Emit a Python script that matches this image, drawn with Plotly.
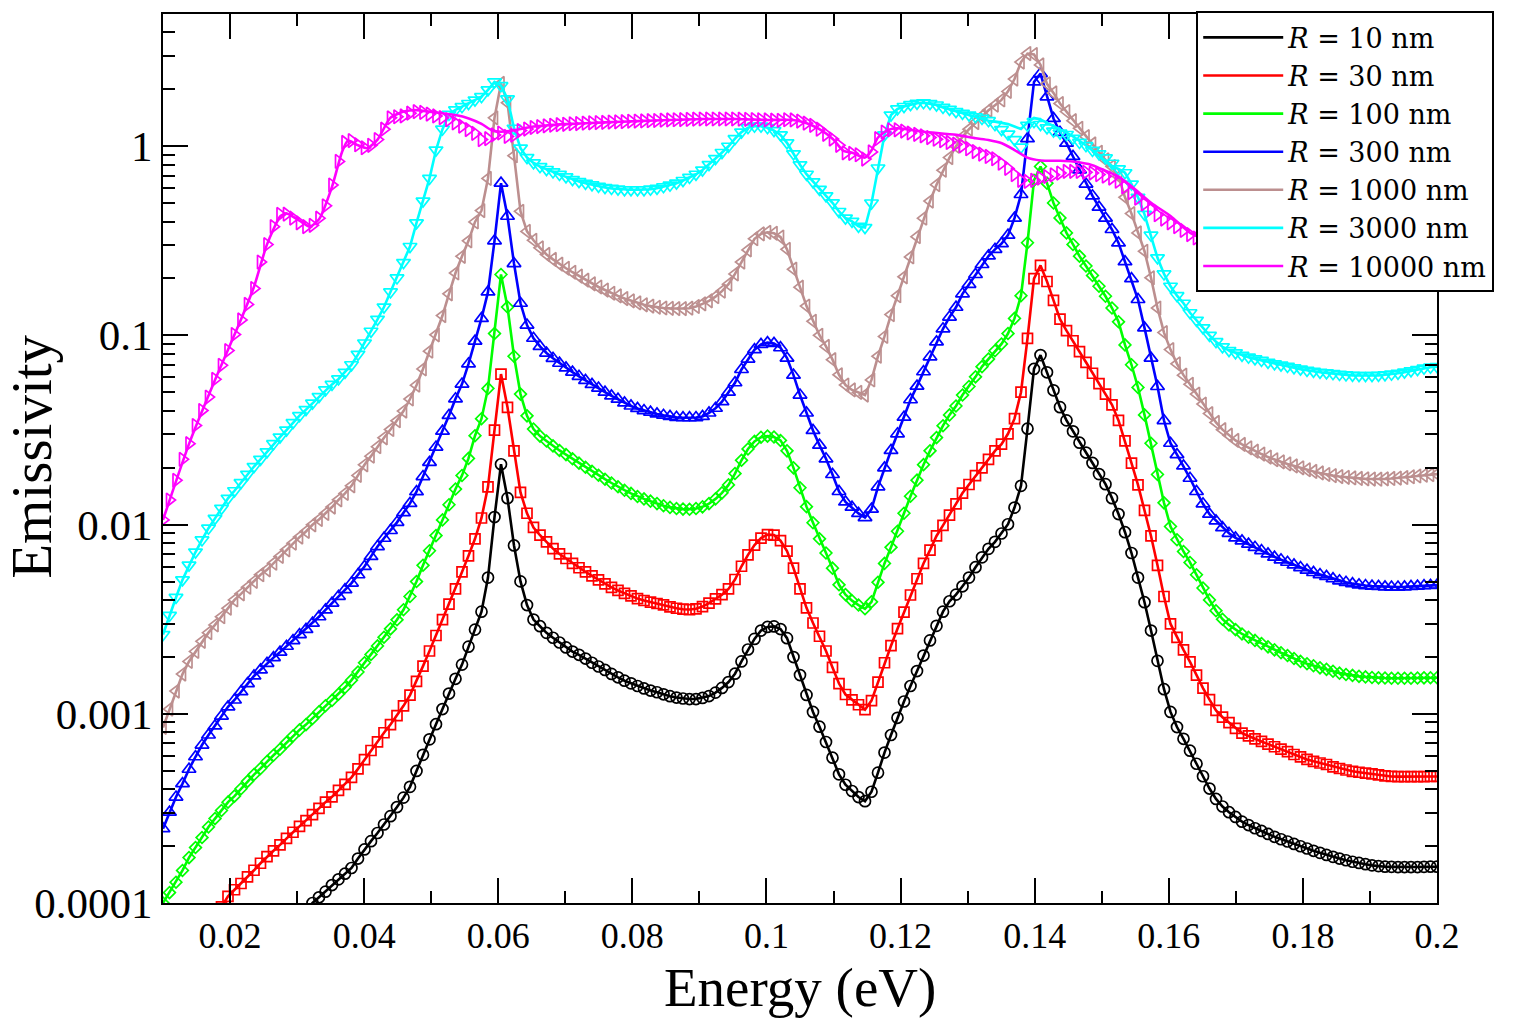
import plotly.graph_objects as go

# ---------------- data (log10 of emissivity) ----------------
N_POINTS = 197
ENERGY = [round(0.01 + 0.19 * i / 196, 6) for i in range(N_POINTS)]  # eV grid of the markers

X_TICKS = [0.02, 0.04, 0.06, 0.08, 0.1, 0.12, 0.14, 0.16, 0.18, 0.2]
X_TICK_TEXT = ["0.02", "0.04", "0.06", "0.08", "0.1", "0.12", "0.14", "0.16", "0.18", "0.2"]
Y_TICKS = [1e-4, 1e-3, 1e-2, 1e-1, 1]
Y_TICK_TEXT = ["0.0001", "0.001", "0.01", "0.1", "1"]

SERIES_NAMES = ["<i>R</i> = 10 nm", "<i>R</i> = 30 nm", "<i>R</i> = 100 nm", "<i>R</i> = 300 nm",
                "<i>R</i> = 1000 nm", "<i>R</i> = 3000 nm", "<i>R</i> = 10000 nm"]

R10_LOG = [
    None, None, None, None, None, None, None, None, None, None,
    None, None, None, None, None, None, None, None, None, None,
    None, None, -4.04, -4.00, -3.970, -3.940, -3.905, -3.875, -3.845, -3.815,
    -3.765, -3.717, -3.673, -3.630, -3.585, -3.541, -3.493, -3.443, -3.386, -3.302,
    -3.217, -3.135, -3.055, -2.975, -2.893, -2.815, -2.740, -2.645, -2.555, -2.460,
    -2.280, -1.960, -1.681, -1.860, -2.110, -2.300, -2.425, -2.502, -2.537, -2.572,
    -2.598, -2.623, -2.649, -2.671, -2.688, -2.708, -2.730, -2.750, -2.768, -2.789,
    -2.807, -2.825, -2.839, -2.853, -2.866, -2.877, -2.886, -2.897, -2.907, -2.914,
    -2.919, -2.922, -2.922, -2.916, -2.906, -2.888, -2.863, -2.832, -2.788, -2.723,
    -2.660, -2.604, -2.560, -2.541, -2.538, -2.552, -2.600, -2.700, -2.795, -2.900,
    -2.990, -3.068, -3.149, -3.232, -3.320, -3.375, -3.408, -3.440, -3.462, -3.412,
    -3.311, -3.205, -3.112, -3.021, -2.935, -2.853, -2.774, -2.692, -2.612, -2.535,
    -2.460, -2.405, -2.370, -2.326, -2.280, -2.225, -2.173, -2.128, -2.091, -2.047,
    -1.998, -1.910, -1.795, -1.493, -1.177, -1.104, -1.195, -1.290, -1.379, -1.449,
    -1.507, -1.567, -1.619, -1.674, -1.733, -1.786, -1.860, -1.944, -2.040, -2.150,
    -2.280, -2.410, -2.560, -2.720, -2.870, -2.990, -3.070, -3.132, -3.195, -3.264,
    -3.330, -3.395, -3.450, -3.490, -3.520, -3.545, -3.570, -3.588, -3.605, -3.619,
    -3.635, -3.650, -3.663, -3.675, -3.688, -3.700, -3.712, -3.724, -3.735, -3.746,
    -3.756, -3.765, -3.774, -3.782, -3.788, -3.795, -3.801, -3.805, -3.808, -3.809,
    -3.810, -3.810, -3.810, -3.810, -3.809, -3.808, -3.808,
]

R30_LOG = [
    None, None, None, None, None, None, None, None, None, -4.02,
    -3.965, -3.930, -3.897, -3.862, -3.827, -3.790, -3.755, -3.724, -3.693, -3.658,
    -3.626, -3.595, -3.565, -3.533, -3.500, -3.467, -3.439, -3.405, -3.373, -3.336,
    -3.291, -3.242, -3.194, -3.148, -3.100, -3.057, -3.010, -2.958, -2.901, -2.829,
    -2.748, -2.668, -2.586, -2.502, -2.420, -2.340, -2.250, -2.165, -2.075, -1.965,
    -1.800, -1.500, -1.204, -1.380, -1.610, -1.830, -1.940, -2.015, -2.056, -2.091,
    -2.127, -2.155, -2.179, -2.205, -2.228, -2.250, -2.271, -2.292, -2.313, -2.332,
    -2.348, -2.363, -2.377, -2.391, -2.401, -2.410, -2.417, -2.424, -2.435, -2.442,
    -2.447, -2.449, -2.445, -2.433, -2.415, -2.392, -2.370, -2.340, -2.290, -2.220,
    -2.160, -2.108, -2.071, -2.053, -2.055, -2.085, -2.140, -2.230, -2.340, -2.440,
    -2.520, -2.590, -2.668, -2.755, -2.840, -2.898, -2.926, -2.952, -2.978, -2.930,
    -2.832, -2.730, -2.640, -2.550, -2.462, -2.372, -2.286, -2.205, -2.135, -2.060,
    -2.004, -1.950, -1.890, -1.833, -1.788, -1.741, -1.700, -1.655, -1.610, -1.575,
    -1.520, -1.440, -1.300, -1.016, -0.700, -0.630, -0.715, -0.815, -0.914, -0.975,
    -1.028, -1.086, -1.142, -1.200, -1.255, -1.310, -1.367, -1.449, -1.557, -1.675,
    -1.790, -1.925, -2.060, -2.215, -2.380, -2.525, -2.596, -2.662, -2.726, -2.796,
    -2.864, -2.925, -2.982, -3.018, -3.047, -3.077, -3.102, -3.117, -3.133, -3.146,
    -3.160, -3.174, -3.187, -3.200, -3.215, -3.228, -3.241, -3.251, -3.260, -3.268,
    -3.280, -3.289, -3.297, -3.304, -3.309, -3.314, -3.318, -3.323, -3.328, -3.331,
    -3.332, -3.332, -3.332, -3.332, -3.332, -3.331, -3.331,
]

R100_LOG = [
    -4.00, -3.945, -3.890, -3.828, -3.760, -3.707, -3.654, -3.598, -3.554, -3.511,
    -3.467, -3.435, -3.396, -3.357, -3.321, -3.289, -3.252, -3.219, -3.187, -3.152,
    -3.117, -3.085, -3.057, -3.025, -2.989, -2.957, -2.929, -2.896, -2.861, -2.822,
    -2.779, -2.730, -2.686, -2.641, -2.595, -2.551, -2.503, -2.450, -2.380, -2.301,
    -2.215, -2.138, -2.058, -1.975, -1.895, -1.812, -1.740, -1.650, -1.530, -1.440,
    -1.280, -0.990, -0.678, -0.850, -1.110, -1.310, -1.425, -1.495, -1.532, -1.558,
    -1.584, -1.608, -1.630, -1.652, -1.675, -1.697, -1.718, -1.739, -1.760, -1.780,
    -1.800, -1.818, -1.835, -1.851, -1.864, -1.876, -1.889, -1.900, -1.909, -1.915,
    -1.918, -1.919, -1.915, -1.906, -1.889, -1.864, -1.832, -1.790, -1.730, -1.660,
    -1.600, -1.560, -1.538, -1.532, -1.537, -1.555, -1.610, -1.700, -1.805, -1.905,
    -1.990, -2.075, -2.150, -2.230, -2.318, -2.370, -2.402, -2.425, -2.445, -2.408,
    -2.305, -2.205, -2.120, -2.035, -1.940, -1.850, -1.765, -1.683, -1.610, -1.540,
    -1.477, -1.420, -1.373, -1.315, -1.270, -1.219, -1.165, -1.125, -1.081, -1.045,
    -0.990, -0.910, -0.790, -0.510, -0.180, -0.107, -0.195, -0.300, -0.379, -0.458,
    -0.519, -0.581, -0.633, -0.683, -0.740, -0.793, -0.855, -0.928, -1.050, -1.155,
    -1.275, -1.420, -1.570, -1.735, -1.885, -2.010, -2.080, -2.142, -2.200, -2.265,
    -2.335, -2.398, -2.455, -2.500, -2.530, -2.555, -2.578, -2.595, -2.612, -2.628,
    -2.646, -2.662, -2.677, -2.692, -2.708, -2.723, -2.735, -2.746, -2.757, -2.765,
    -2.775, -2.785, -2.792, -2.797, -2.802, -2.805, -2.808, -2.810, -2.811, -2.812,
    -2.812, -2.812, -2.812, -2.811, -2.810, -2.809, -2.809,
]

R300_LOG = [
    -3.607, -3.520, -3.440, -3.369, -3.293, -3.227, -3.165, -3.112, -3.064, -3.012,
    -2.963, -2.927, -2.883, -2.840, -2.800, -2.768, -2.733, -2.703, -2.674, -2.643,
    -2.613, -2.581, -2.554, -2.521, -2.487, -2.451, -2.415, -2.379, -2.344, -2.309,
    -2.265, -2.221, -2.168, -2.116, -2.072, -2.031, -1.988, -1.937, -1.888, -1.826,
    -1.746, -1.671, -1.590, -1.506, -1.423, -1.335, -1.257, -1.150, -1.030, -0.910,
    -0.770, -0.500, -0.195, -0.370, -0.620, -0.830, -0.945, -1.015, -1.058, -1.093,
    -1.121, -1.147, -1.172, -1.194, -1.216, -1.238, -1.259, -1.278, -1.300, -1.320,
    -1.337, -1.357, -1.373, -1.386, -1.397, -1.406, -1.415, -1.422, -1.428, -1.433,
    -1.435, -1.435, -1.434, -1.428, -1.410, -1.385, -1.350, -1.300, -1.250, -1.180,
    -1.125, -1.075, -1.048, -1.038, -1.042, -1.065, -1.120, -1.210, -1.315, -1.410,
    -1.502, -1.580, -1.652, -1.735, -1.825, -1.880, -1.908, -1.941, -1.963, -1.918,
    -1.800, -1.700, -1.608, -1.520, -1.432, -1.340, -1.268, -1.192, -1.113, -1.034,
    -0.965, -0.903, -0.851, -0.780, -0.730, -0.678, -0.625, -0.580, -0.545, -0.515,
    -0.470, -0.380, -0.255, 0.040, 0.340, 0.384, 0.261, 0.147, 0.073, 0.016,
    -0.054, -0.125, -0.200, -0.262, -0.322, -0.380, -0.440, -0.511, -0.610, -0.700,
    -0.810, -0.960, -1.120, -1.270, -1.450, -1.570, -1.630, -1.690, -1.755, -1.825,
    -1.890, -1.945, -1.980, -2.016, -2.046, -2.070, -2.086, -2.103, -2.120, -2.137,
    -2.155, -2.172, -2.186, -2.199, -2.213, -2.227, -2.241, -2.253, -2.264, -2.274,
    -2.286, -2.297, -2.305, -2.312, -2.318, -2.322, -2.325, -2.327, -2.329, -2.330,
    -2.330, -2.329, -2.327, -2.325, -2.323, -2.321, -2.320,
]

R1000_LOG = [
    -3.072, -2.975, -2.880, -2.790, -2.723, -2.670, -2.617, -2.571, -2.530, -2.487,
    -2.442, -2.398, -2.366, -2.331, -2.300, -2.265, -2.239, -2.204, -2.168, -2.133,
    -2.098, -2.066, -2.036, -2.001, -1.973, -1.941, -1.907, -1.869, -1.835, -1.795,
    -1.740, -1.684, -1.638, -1.588, -1.541, -1.497, -1.451, -1.400, -1.336, -1.263,
    -1.177, -1.083, -0.997, -0.895, -0.780, -0.670, -0.582, -0.500, -0.400, -0.340,
    -0.170, 0.150, 0.332, 0.230, -0.050, -0.344, -0.450, -0.497, -0.537, -0.572,
    -0.598, -0.623, -0.645, -0.666, -0.686, -0.708, -0.727, -0.744, -0.760, -0.777,
    -0.791, -0.805, -0.817, -0.828, -0.838, -0.845, -0.851, -0.855, -0.857, -0.858,
    -0.858, -0.856, -0.847, -0.833, -0.817, -0.795, -0.766, -0.729, -0.675, -0.612,
    -0.548, -0.489, -0.463, -0.455, -0.460, -0.480, -0.545, -0.650, -0.745, -0.845,
    -0.925, -0.999, -1.058, -1.128, -1.208, -1.262, -1.288, -1.301, -1.315, -1.235,
    -1.110, -1.005, -0.890, -0.790, -0.690, -0.585, -0.478, -0.380, -0.290, -0.203,
    -0.127, -0.060, 0.000, 0.050, 0.090, 0.125, 0.160, 0.190, 0.217, 0.245,
    0.290, 0.355, 0.445, 0.490, 0.485, 0.430, 0.330, 0.282, 0.226, 0.183,
    0.135, 0.095, 0.051, 0.012, -0.032, -0.072, -0.107, -0.160, -0.270, -0.356,
    -0.458, -0.555, -0.695, -0.855, -0.985, -1.075, -1.150, -1.210, -1.258, -1.310,
    -1.363, -1.413, -1.460, -1.498, -1.527, -1.555, -1.576, -1.594, -1.612, -1.627,
    -1.643, -1.657, -1.668, -1.679, -1.690, -1.700, -1.710, -1.719, -1.727, -1.735,
    -1.741, -1.746, -1.750, -1.753, -1.756, -1.758, -1.759, -1.760, -1.758, -1.756,
    -1.754, -1.751, -1.747, -1.743, -1.739, -1.736, -1.733,
]

R3000_LOG = [
    -2.581, -2.480, -2.385, -2.292, -2.214, -2.145, -2.081, -2.019, -1.967, -1.914,
    -1.861, -1.821, -1.778, -1.734, -1.693, -1.655, -1.615, -1.572, -1.537, -1.500,
    -1.461, -1.424, -1.392, -1.358, -1.323, -1.288, -1.259, -1.230, -1.195, -1.155,
    -1.100, -1.040, -0.978, -0.915, -0.850, -0.770, -0.696, -0.615, -0.530, -0.405,
    -0.290, -0.170, -0.020, 0.090, 0.168, 0.192, 0.209, 0.226, 0.244, 0.262,
    0.298, 0.340, 0.320, 0.250, 0.095, -0.010, -0.060, -0.088, -0.108, -0.123,
    -0.136, -0.149, -0.162, -0.176, -0.187, -0.196, -0.204, -0.212, -0.218, -0.223,
    -0.226, -0.230, -0.230, -0.230, -0.230, -0.227, -0.222, -0.214, -0.206, -0.195,
    -0.181, -0.165, -0.148, -0.126, -0.097, -0.065, -0.033, 0.000, 0.040, 0.075,
    0.098, 0.106, 0.106, 0.098, 0.083, 0.060, 0.018, -0.040, -0.098, -0.148,
    -0.188, -0.228, -0.262, -0.299, -0.345, -0.380, -0.397, -0.423, -0.430, -0.300,
    -0.115, 0.060, 0.165, 0.197, 0.210, 0.220, 0.227, 0.230, 0.226, 0.218,
    0.205, 0.195, 0.183, 0.174, 0.165, 0.156, 0.147, 0.135, 0.114, 0.088,
    0.064, 0.035, -0.005, 0.110, 0.130, 0.115, 0.097, 0.080, 0.070, 0.062,
    0.042, 0.020, 0.003, -0.022, -0.040, -0.062, -0.090, -0.120, -0.140, -0.200,
    -0.270, -0.360, -0.470, -0.590, -0.675, -0.740, -0.790, -0.830, -0.880, -0.920,
    -0.960, -1.000, -1.033, -1.060, -1.080, -1.092, -1.105, -1.115, -1.124, -1.132,
    -1.142, -1.150, -1.157, -1.164, -1.171, -1.178, -1.185, -1.190, -1.195, -1.198,
    -1.202, -1.206, -1.209, -1.211, -1.212, -1.212, -1.212, -1.211, -1.208, -1.205,
    -1.200, -1.194, -1.187, -1.180, -1.173, -1.168, -1.165,
]
# the R = 3000 nm line departs from its markers between grid points 127 and 146
R3000_LINE_START = 127
R3000_LINE_PART_LOG = [0.135, 0.130, 0.124, 0.117, 0.104, 0.091, 0.126, 0.150, 0.142, 0.125,
                       0.108, 0.090, 0.072, 0.052, 0.030, 0.004, -0.022, -0.050, -0.078, -0.105]

R10000_LOG = [
    -1.975, -1.870, -1.766, -1.655, -1.572, -1.476, -1.397, -1.326, -1.232, -1.158,
    -1.080, -0.995, -0.918, -0.836, -0.752, -0.612, -0.520, -0.425, -0.360, -0.359,
    -0.380, -0.405, -0.425, -0.418, -0.380, -0.315, -0.205, -0.080, 0.020, 0.030,
    0.008, -0.008, 0.005, 0.035, 0.090, 0.150, 0.156, 0.160, 0.175, 0.183,
    0.179, 0.170, 0.160, 0.151, 0.140, 0.123, 0.106, 0.088, 0.068, 0.035,
    0.040, 0.060, 0.070, 0.052, 0.058, 0.083, 0.091, 0.099, 0.104, 0.108,
    0.111, 0.114, 0.116, 0.119, 0.120, 0.122, 0.124, 0.125, 0.126, 0.128,
    0.129, 0.130, 0.132, 0.133, 0.134, 0.135, 0.136, 0.138, 0.139, 0.140,
    0.141, 0.142, 0.143, 0.144, 0.144, 0.144, 0.144, 0.144, 0.144, 0.143,
    0.142, 0.141, 0.140, 0.139, 0.138, 0.137, 0.140, 0.139, 0.133, 0.122,
    0.110, 0.090, 0.063, 0.038, 0.005, -0.035, -0.038, -0.045, -0.068, -0.030,
    0.040, 0.075, 0.087, 0.087, 0.080, 0.070, 0.063, 0.055, 0.046, 0.037,
    0.029, 0.020, 0.011, 0.002, -0.013, -0.028, -0.042, -0.054, -0.066, -0.090,
    -0.117, -0.150, -0.180, -0.186, -0.180, -0.168, -0.160, -0.151, -0.142, -0.133,
    -0.133, -0.133, -0.138, -0.142, -0.150, -0.158, -0.168, -0.185, -0.215, -0.245,
    -0.275, -0.305, -0.333, -0.362, -0.385, -0.405, -0.425, -0.445, -0.467, -0.485,
    -0.500, -0.510, -0.520, -0.530, -0.540, -0.550, -0.555, -0.560, -0.565, -0.570,
    -0.575, -0.580, -0.585, -0.590, -0.595, -0.600, -0.603, -0.606, -0.609, -0.612,
    -0.615, -0.617, -0.619, -0.621, -0.623, -0.625, -0.626, -0.627, -0.628, -0.629,
    -0.630, -0.630, -0.630, -0.630, -0.630, -0.630, -0.630,
]
# the R = 10000 nm line is a separate smooth curve
R10000_LINE_E = [0.0100, 0.0139, 0.0178, 0.0216, 0.0236, 0.0255, 0.0275, 0.0284, 0.0304, 0.0319,
                 0.0333, 0.0352, 0.0367, 0.0376, 0.0391, 0.0405, 0.0420, 0.0439, 0.0459, 0.0478,
                 0.0497, 0.0517, 0.0536, 0.0556, 0.0575, 0.0590, 0.0604, 0.0624, 0.0653, 0.0701,
                 0.0759, 0.0808, 0.0856, 0.0905, 0.0953, 0.1002, 0.1040, 0.1060, 0.1079, 0.1099,
                 0.1115, 0.1128, 0.1147, 0.1157, 0.1166, 0.1181, 0.1195, 0.1234, 0.1283, 0.1312,
                 0.1331, 0.1351, 0.1370, 0.1389, 0.1409, 0.1438, 0.1457, 0.1486, 0.1506, 0.1525,
                 0.1544, 0.1574, 0.1603, 0.1632, 0.1661, 0.1748, 0.1845, 0.2000]
R10000_LINE_LOG = [-1.975, -1.572, -1.232, -0.918, -0.740, -0.520, -0.370, -0.355, -0.395, -0.425,
                   -0.385, -0.215, -0.030, 0.030, 0.005, -0.010, 0.035, 0.150, 0.183, 0.191,
                   0.183, 0.174, 0.165, 0.147, 0.118, 0.085, 0.077, 0.085, 0.104, 0.117,
                   0.126, 0.133, 0.139, 0.144, 0.144, 0.139, 0.139, 0.122, 0.090, 0.038,
                   -0.025, -0.035, -0.060, -0.020, 0.045, 0.085, 0.095, 0.077, 0.060, 0.042,
                   0.033, 0.016, -0.020, -0.060, -0.075, -0.077, -0.081, -0.100, -0.130, -0.160,
                   -0.210, -0.300, -0.370, -0.458, -0.500, -0.560, -0.600, -0.620]

COLORS = ["#000000", "#ff0000", "#00ff00", "#0000ff", "#bc8f8f", "#00ffff", "#ff00ff"]
SYMBOLS = ["circle-open", "square-open", "diamond-open", "triangle-up-open",
           "triangle-left-open", "triangle-down-open", "triangle-right-open"]
SIZES = [11, 10, 9, 12, 12, 12, 12]

for arr in (R10_LOG, R30_LOG, R100_LOG, R300_LOG, R1000_LOG, R3000_LOG, R10000_LOG):
    assert len(arr) == N_POINTS, len(arr)
assert len(R10000_LINE_E) == len(R10000_LINE_LOG)


def lin(values):
    return [None if v is None else 10 ** v for v in values]


ALL_LOG = [R10_LOG, R30_LOG, R100_LOG, R300_LOG, R1000_LOG, R3000_LOG, R10000_LOG]

r3000_line = list(R3000_LOG)
r3000_line[R3000_LINE_START:R3000_LINE_START + len(R3000_LINE_PART_LOG)] = R3000_LINE_PART_LOG

fig = go.Figure()
LW = 2.6
for i, data in enumerate(ALL_LOG):
    color = COLORS[i]
    marker = dict(symbol=SYMBOLS[i], size=SIZES[i], color=color, line=dict(color=color, width=1.7))
    if i == 5:
        fig.add_trace(go.Scatter(x=ENERGY, y=lin(r3000_line), mode="lines",
                                 line=dict(color=color, width=LW), showlegend=False, hoverinfo="skip"))
        fig.add_trace(go.Scatter(x=ENERGY, y=lin(data), mode="markers", marker=marker, showlegend=False))
    elif i == 6:
        fig.add_trace(go.Scatter(x=R10000_LINE_E, y=lin(R10000_LINE_LOG), mode="lines",
                                 line=dict(color=color, width=LW, shape="spline", smoothing=0.6),
                                 showlegend=False, hoverinfo="skip"))
        fig.add_trace(go.Scatter(x=ENERGY, y=lin(data), mode="markers", marker=marker, showlegend=False))
    else:
        fig.add_trace(go.Scatter(x=ENERGY, y=lin(data), mode="lines+markers",
                                 line=dict(color=color, width=LW), marker=marker, showlegend=False))

# legend entries (line samples only)
for i, name in enumerate(SERIES_NAMES):
    fig.add_trace(go.Scatter(x=[None], y=[None], mode="lines", name=name,
                             line=dict(color=COLORS[i], width=LW)))

FONT = "Liberation Serif, Times New Roman, serif"
LEG_FONT = "DejaVu Serif, serif"
axis_common = dict(showline=True, linecolor="black", linewidth=2, mirror="allticks",
                   ticks="inside", ticklen=25, tickwidth=2, tickcolor="black",
                   showgrid=False, zeroline=False)

fig.update_xaxes(range=[0.01, 0.2], tickmode="array", tickvals=X_TICKS, ticktext=X_TICK_TEXT,
                 tickfont=dict(family=FONT, size=36, color="black"),
                 minor=dict(ticks="inside", ticklen=12, tickwidth=2, tickcolor="black",
                            dtick=0.01, tick0=0.0, showgrid=False),
                 **axis_common)
fig.update_yaxes(type="log", range=[-4, 0.699], tickmode="array", tickvals=Y_TICKS, ticktext=Y_TICK_TEXT,
                 tickfont=dict(family=FONT, size=43, color="black"),
                 minor=dict(ticks="inside", ticklen=12, tickwidth=2, tickcolor="black",
                            dtick="D1", showgrid=False),
                 **axis_common)

fig.update_layout(
    width=1514, height=1020,
    margin=dict(l=163, r=77, t=11, b=117),
    paper_bgcolor="white", plot_bgcolor="white",
    font=dict(family=FONT, color="black"),
    legend=dict(x=0.811, y=1.003, xanchor="left", yanchor="top",
                bgcolor="white", bordercolor="black", borderwidth=2,
                font=dict(family=LEG_FONT, size=27, color="black"),
                itemwidth=80, tracegroupgap=0),
    annotations=[
        dict(text="Energy (eV)", x=0.5, y=-0.0955, xref="paper", yref="paper",
             xanchor="center", yanchor="middle", showarrow=False,
             font=dict(family=FONT, size=55, color="black")),
        dict(text="Emissivity", x=-0.1028, y=0.502, xref="paper", yref="paper",
             xanchor="center", yanchor="middle", showarrow=False, textangle=-90,
             font=dict(family=FONT, size=57, color="black")),
    ],
)

fig.write_html("out.html")
